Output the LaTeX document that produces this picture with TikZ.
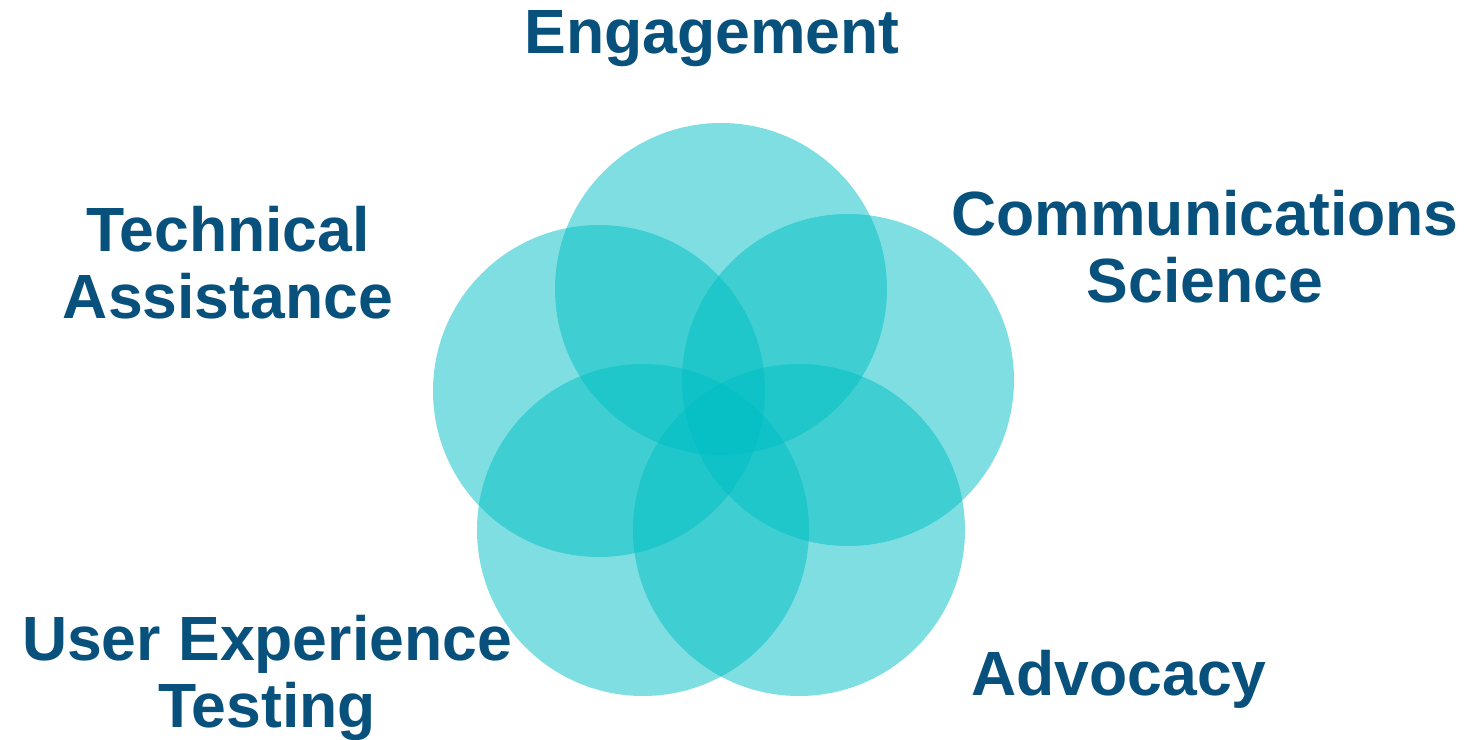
\documentclass[tikz,border=0pt]{standalone}
\usepackage{fontspec}
\setmainfont{Liberation Sans}
\definecolor{petal}{RGB}{0,190,195}
\definecolor{labelblue}{RGB}{8,81,125}
\begin{document}
\begin{tikzpicture}[x=1pt,y=1pt,
  petalstyle/.style={fill=petal,fill opacity=0.5,draw=none},
  lbl/.style={text=labelblue,font=\bfseries\fontsize{62.5}{67}\selectfont,align=center,anchor=base,inner sep=0pt}]
\useasboundingbox (0,0) rectangle (1483,739);
\fill[petalstyle] (721,450) circle (166);
\fill[petalstyle] (848,359) circle (166);
\fill[petalstyle] (599,348) circle (166);
\fill[petalstyle] (643,209) circle (166);
\fill[petalstyle] (799,209) circle (166);
\node[lbl] (eng) at (712,685) {Engagement};
\node[lbl] (tech) at (228,420) {Technical\\Assistance};
\node[lbl] (comm) at (1205,436) {Communications\\Science};
\node[lbl] (ux) at (267,12) {User Experience\\Testing};
\node[lbl] (adv) at (1119,44) {Advocacy};
\end{tikzpicture}
\end{document}
